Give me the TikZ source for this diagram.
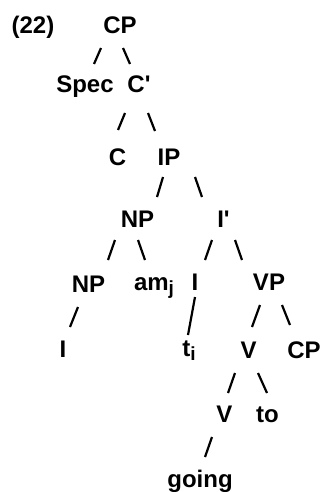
\documentclass[tikz,border=0pt]{standalone}
\usepackage{fontspec}
\setmainfont{Liberation Sans}
% lowered index letter (am_j, t_i)
\newcommand\idx[1]{\raisebox{-4pt}{\fontsize{19}{19}\selectfont #1}}
\begin{document}
\begin{tikzpicture}[x=1pt,y=-1pt,
  lbl/.style={anchor=base,inner sep=0pt,font=\fontsize{24}{24}\selectfont\bfseries},
  br/.style={line width=2.2pt}]
\useasboundingbox (0,0) rectangle (321,492);

% category labels, placed by baseline
\node[lbl] (ex)   at (33,34)    {(22)};
\node[lbl] (cp)   at (120,34)   {CP};
\node[lbl] (spec) at (85,93)    {Spec};
\node[lbl] (cbar) at (139,93)   {C\textquotesingle};
\node[lbl] (c)    at (117.5,165){C};
\node[lbl] (ip)   at (169,165)  {IP};
\node[lbl] (np)   at (137.5,227){NP};
\node[lbl] (ibar) at (223.5,227){I\textquotesingle};
\node[lbl] (np2)  at (88.5,292) {NP};
\node[lbl] (am)   at (154,290)  {am\idx{j}};
\node[lbl] (i)    at (195,290)  {I};
\node[lbl] (vp)   at (269,290)  {VP};
\node[lbl] (pro)  at (63,357)   {I};
\node[lbl] (t)    at (189,356)  {t\idx{i}};
\node[lbl] (v)    at (248.5,358){V};
\node[lbl] (cp2)  at (304,358)  {CP};
\node[lbl] (v2)   at (224.5,422){V};
\node[lbl] (to)   at (267.5,422){to};
\node[lbl] (go)   at (200,487)  {going};

% branches: short strokes hanging under each mother node
\draw[br] ([xshift=-19pt,yshift=-14pt]cp.base) -- ++(-7,16);
\draw[br] ([xshift=3pt,yshift=-14pt]cp.base) -- ++(7,16);
\draw[br] ([xshift=-14pt,yshift=-20pt]cbar.base) -- ++(-7,17);
\draw[br] ([xshift=9pt,yshift=-20pt]cbar.base) -- ++(7,18);
\draw[br] ([xshift=-6pt,yshift=-12pt]ip.base) -- ++(-6,20);
\draw[br] ([xshift=26pt,yshift=-12pt]ip.base) -- ++(7,20);
\draw[br] ([xshift=-22.5pt,yshift=-13pt]np.base) -- ++(-7,20);
\draw[br] ([xshift=0.5pt,yshift=-13pt]np.base) -- ++(7,20);
\draw[br] ([xshift=-11.5pt,yshift=-13pt]ibar.base) -- ++(-7,20);
\draw[br] ([xshift=11.5pt,yshift=-13pt]ibar.base) -- ++(7,20);
\draw[br] ([xshift=-10.5pt,yshift=-15pt]np2.base) -- ++(-8,20);
\draw[br] ([xshift=0pt,yshift=-7pt]i.base) -- ++(-7,38);
\draw[br] ([xshift=-9pt,yshift=-15pt]vp.base) -- ++(-8,22);
\draw[br] ([xshift=13pt,yshift=-15pt]vp.base) -- ++(8,20);
\draw[br] ([xshift=-13.5pt,yshift=-15pt]v.base) -- ++(-7,20);
\draw[br] ([xshift=9.5pt,yshift=-15pt]v.base) -- ++(9,20);
\draw[br] ([xshift=-12.5pt,yshift=-15pt]v2.base) -- ++(-7,20);
\end{tikzpicture}
\end{document}
